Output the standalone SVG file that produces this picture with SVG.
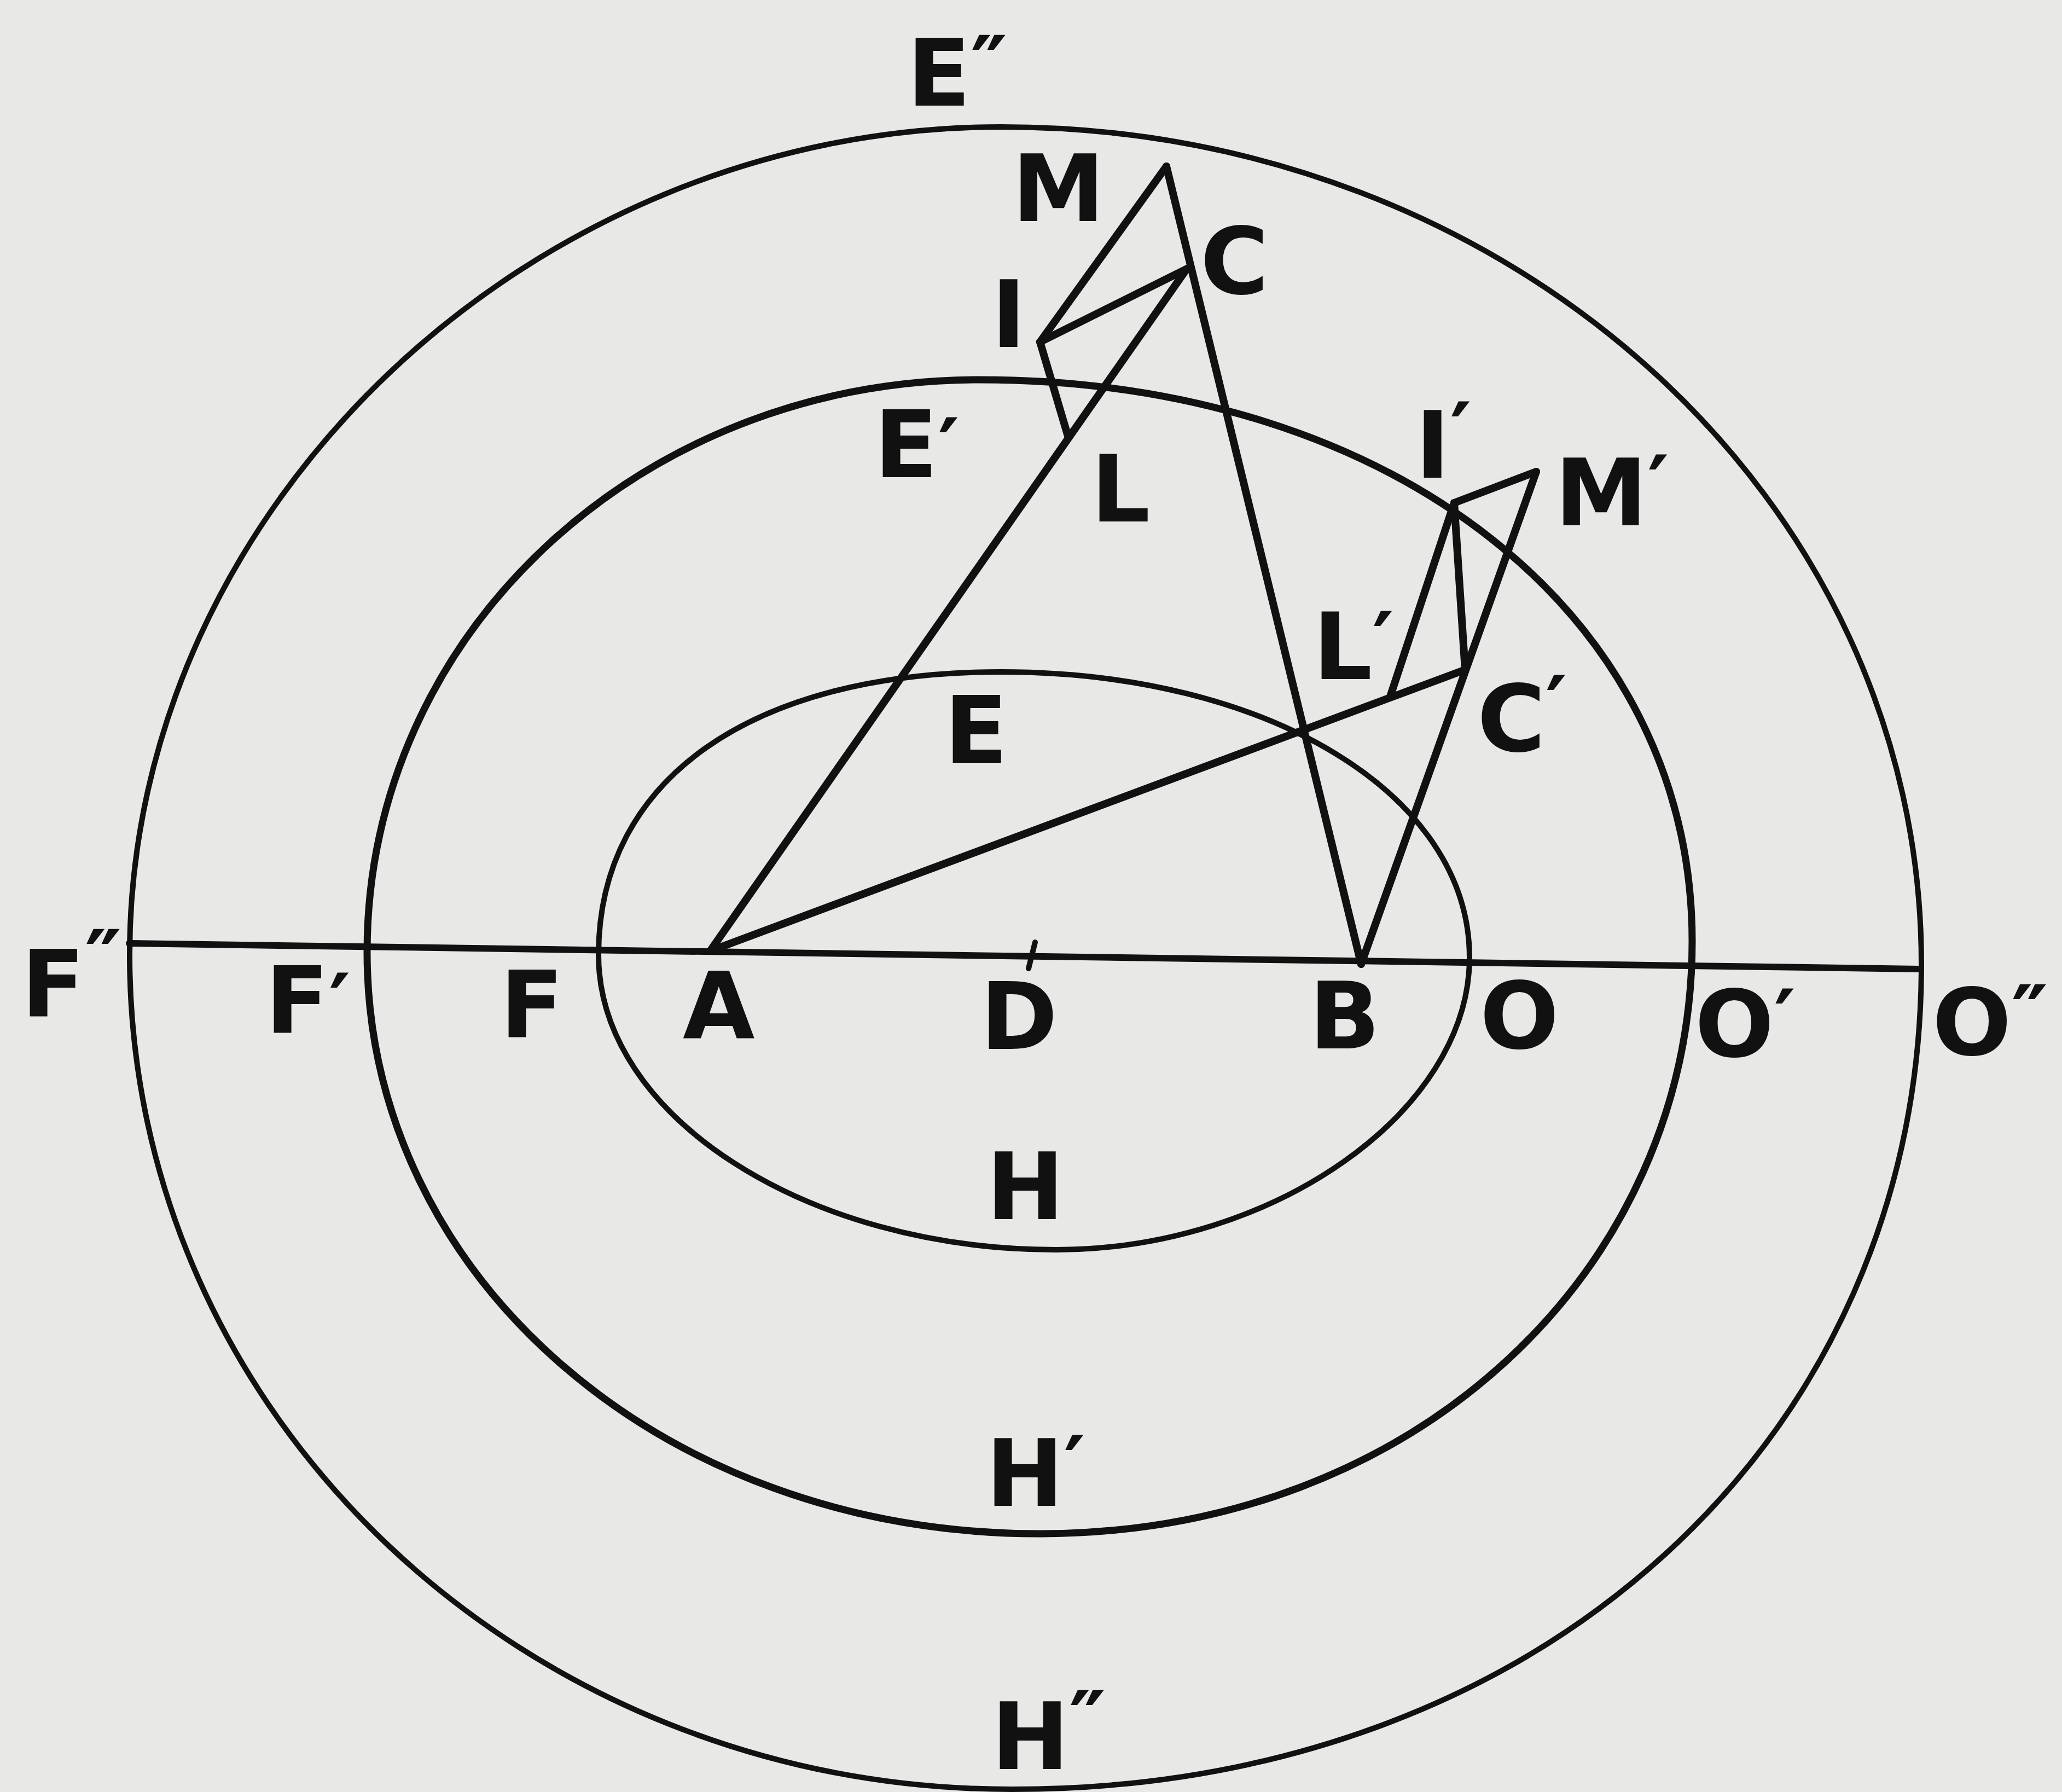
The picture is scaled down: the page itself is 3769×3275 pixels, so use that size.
<svg xmlns="http://www.w3.org/2000/svg" width="3769" height="3275" viewBox="0 0 3769 3275">
<style>
.bg{fill:#e8e8e6}
.oval{fill:none;stroke:#111;stroke-width:10}
.ln{fill:none;stroke:#111;stroke-width:14;stroke-linejoin:miter;stroke-linecap:round}
text{font-family:"DejaVu Sans","Liberation Sans",sans-serif;font-weight:bold;font-size:170px;fill:#111}
.pr{font-size:150px}
</style>
<rect class="bg" x="0" y="0" width="3769" height="3275"/>
<g id="ovals">
<path id="outer" class="oval" d="M237,1745 C237,928 970,232 1830,232 C2763,232 3512,913 3512,1762 C3512,2630 2814,3270 1850,3270 C955,3270 237,2585 237,1745 Z"/>
<path id="middle" class="oval" style="stroke-width:13" d="M671,1740 C671,1159 1169,694 1790,694 C2546,694 3093,1125 3093,1720 C3093,2321 2586,2803 1900,2803 C1205,2803 671,2329 671,1740 Z"/>
<path id="inner" class="oval" d="M1094,1745 C1094,1424 1374,1228 1830,1228 C2318,1228 2686,1452 2686,1750 C2686,2032 2326,2284 1930,2284 C1475,2284 1094,2040 1094,1745 Z"/>
</g>
<g id="connectors">
<line class="ln" x1="236" y1="1724" x2="3508" y2="1771" style="stroke-width:12"/>
<line class="ln" x1="1892" y1="1722" x2="1880" y2="1770" style="stroke-width:10"/>
<polyline class="ln" points="1298,1738 2168,493"/>
<polyline class="ln" points="2132,304 2488,1762"/>
<polyline class="ln" points="1298,1738 2678,1224"/>
<polyline class="ln" points="2488,1762 2808,862"/>
<polyline class="ln" points="1952,797 1901,625 2132,304"/>
<polyline class="ln" points="1901,625 2172,490"/>
<polyline class="ln" points="2541,1273 2658,919 2808,862"/>
<polyline class="ln" points="2658,919 2678,1224"/>
</g>
<g id="labels">
<text x="1658" y="193">E<tspan class="pr" dy="-20">″</tspan></text>
<text x="1850" y="404">M</text>
<text x="2194" y="537">C</text>
<text x="1812" y="634">I</text>
<text x="1598" y="872">E<tspan class="pr">′</tspan></text>
<text x="1994" y="953">L</text>
<text x="2587" y="873">I<tspan class="pr" dy="-30">′</tspan></text>
<text x="2842" y="960">M<tspan class="pr" dy="-20">′</tspan></text>
<text x="2400" y="1241">L<tspan class="pr" dy="-15">′</tspan></text>
<text x="2700" y="1373">C<tspan class="pr" dy="-30">′</tspan></text>
<text x="1726" y="1394">E</text>
<text x="39" y="1857">F<tspan class="pr" dy="-50">″</tspan></text>
<text x="485" y="1887">F<tspan class="pr">′</tspan></text>
<text x="914" y="1895">F</text>
<text x="1248" y="1898">A</text>
<text x="1792" y="1917">D</text>
<text x="2393" y="1916">B</text>
<text x="2705" y="1916">O</text>
<text x="3098" y="1931">O<tspan class="pr" dy="-15">′</tspan></text>
<text x="3532" y="1928">O<tspan class="pr" dy="-20">″</tspan></text>
<text x="1803" y="2228">H</text>
<text x="1802" y="2752">H<tspan class="pr" dy="-20">′</tspan></text>
<text x="1812" y="3233">H<tspan class="pr" dy="-35">″</tspan></text>
</g>
</svg>
